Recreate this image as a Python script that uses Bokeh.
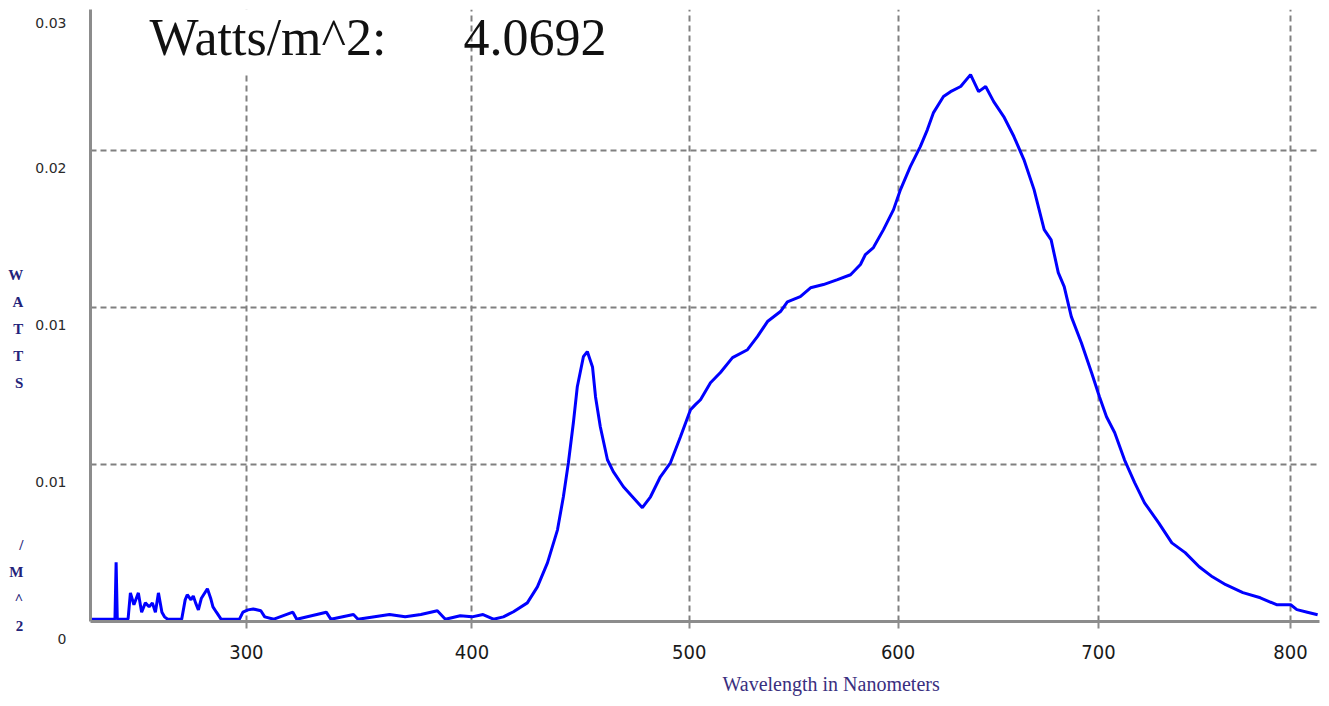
import numpy as np
from bokeh.plotting import figure
from bokeh.models import Range1d, FixedTicker, Label, Title, LinearAxis
from bokeh.embed import file_html
from bokeh.resources import INLINE

# ---------------- data ----------------
wavelength_nm = [
    233, 242, 243.4, 243.9, 244.4, 249, 250, 251.5, 253.4, 254.8, 256.4, 258, 259.4,
    260.7, 262, 263.5, 264.6, 266, 272, 273.5, 274.4, 276, 277, 278, 279.2, 280.5,
    283.1, 284.5, 285.5, 287, 289, 297, 298.5, 300.7, 303, 306.3, 308, 312, 320.3,
    322, 335, 337, 347, 349, 363, 370, 377, 384.4, 388, 394.7, 400, 405,
    409.7, 414.2, 418.8, 425.1, 429.7, 434.3, 438.9, 441.6, 443.9, 446.2, 448, 450.8,
    452.6, 455, 456.4, 458.6, 461.9, 464.6, 469.3, 473.9, 478.1, 481.9, 486.5, 491.2,
    495.9, 500.6, 502.9, 505.3, 510, 514.7, 520.4, 527.5, 532.2, 537, 543.2, 546.5,
    552.7, 557.6, 563.8, 570.6, 576.9, 581.7, 584.1, 588, 592.9, 597.8, 601.2, 606,
    610.9, 614.4, 617.4, 622.3, 625.8, 630.8, 635.7, 639.7, 643.2, 647.2, 652.2, 657.3,
    662.3, 667.4, 672.5, 676, 679.6, 682.6, 686.2, 691.3, 696.5, 700.5, 704.1, 708.3,
    713.3, 718.5, 723.6, 730.9, 737.7, 744.6, 751.9, 758.8, 765.8, 774.8, 784, 792.6,
    800.1, 803.4, 809, 814.5,
]
irradiance = [
    0.0001, 0.0001, 0.0001, 0.00254, 0.0001, 0.0001, 0.00123, 0.00072, 0.00123, 0.0004,
    0.0008, 0.00063, 0.0008, 0.0004, 0.00123, 0.0004, 0.0002, 0.0001, 0.0001, 0.00093,
    0.00115, 0.00093, 0.0011, 0.0008, 0.0005, 0.001, 0.00141, 0.001, 0.00063, 0.0004,
    0.0001, 0.0001, 0.0004, 0.0005, 0.00054, 0.00046, 0.0002, 0.0001, 0.0004, 0.0001,
    0.0004, 0.0001, 0.0003, 0.0001, 0.0003, 0.0002, 0.0003, 0.00046, 0.0001, 0.00025,
    0.0002, 0.0003,
    0.0001, 0.0002, 0.00042, 0.0008, 0.00149, 0.00252, 0.00394, 0.00536, 0.00682, 0.00855,
    0.01009, 0.01138, 0.0116, 0.01094, 0.00965, 0.00837, 0.00695, 0.00644, 0.00579,
    0.00532, 0.00489, 0.00536, 0.00622, 0.00682, 0.00794, 0.0091, 0.00932, 0.00953,
    0.01026, 0.0107, 0.01134, 0.01168, 0.01224, 0.01289, 0.01332, 0.01374, 0.01396,
    0.01434, 0.01448, 0.01469, 0.0149, 0.01534, 0.01577, 0.01607, 0.01684, 0.0177,
    0.01856, 0.01955, 0.02041, 0.02114, 0.02187, 0.02256, 0.02277, 0.02299, 0.0235,
    0.02277, 0.02299, 0.02234, 0.0217, 0.02084, 0.01985, 0.01856, 0.01684, 0.0164,
    0.01499, 0.01439, 0.0131, 0.01198, 0.01069, 0.00966, 0.0088, 0.00811, 0.00695,
    0.00597, 0.0051, 0.00424, 0.00338, 0.00296, 0.00235, 0.00192, 0.00158, 0.00124,
    0.00102, 0.00072, 0.00072, 0.00051, 0.0004, 0.00029,
]
x_tick_nm = [300, 400, 500, 600, 700, 800]
y_grid_values = [0.00675, 0.0135, 0.02025]
y_label_values = [0.0, 0.00675, 0.0135, 0.02025]
y_top_label_value = 0.0257
x_start_nm, x_end_nm = 233.0, 815.5
y_end = 0.0263

total_caption = "Watts/m^2:"
total_value = "4.0692"
x_title = "Wavelength in Nanometers"
y_title_lines = ["W", "A", "T", "T", "S", "", "", "", "", "", "/", "M", "^", "2"]

# spectrometer display calibration: screen channel as a function of wavelength
CAL_B, CAL_C = 2.13, -0.00042


def chan(nm):
    d = np.asarray(nm, dtype=float) - 500.0
    return CAL_B * d + CAL_C * d * d


X0 = float(chan(x_start_nm))


# layout helpers (page pixel -> plot coordinates, for text placement only)
def x_at(px):
    return (px - 90.0) + X0


def y_at(py):
    return (621.7 - py) / 157.0 * y_grid_values[0]


def fmt(v):
    return "0" if v == 0 else "%.2f" % v


p = figure(width=1329, height=704, output_backend="svg", toolbar_location=None,
           x_range=Range1d(X0, float(chan(x_end_nm))), y_range=Range1d(0, y_end),
           min_border_left=90, min_border_right=10, min_border_top=9, min_border_bottom=82)
p.outline_line_color = None
p.background_fill_color = "white"
p.border_fill_color = "white"

# x axis
xt = [float(v) for v in chan(x_tick_nm)]
xax = p.xaxis[0]
xax.ticker = FixedTicker(ticks=xt)
xax.major_label_overrides = {v: str(t) for v, t in zip(xt, x_tick_nm)}
xax.minor_tick_line_color = None
xax.major_tick_in = 0
xax.major_tick_out = 7
xax.major_tick_line_color = "#8c8c8c"
xax.major_tick_line_width = 2
xax.axis_line_color = "#8c8c8c"
xax.axis_line_width = 3
xax.major_label_standoff = 16
xax.major_label_text_font = "Liberation Sans Narrow, DejaVu Sans Condensed, sans-serif"
xax.major_label_text_font_size = "20px"
xax.major_label_text_color = "#1a1a1a"

# y axis (labels sit just below their grid lines, as in the original)
yax = p.yaxis[0]
yax.ticker = FixedTicker(ticks=y_label_values + [y_top_label_value])
overrides = {v: "\n" + fmt(v) for v in y_label_values}
overrides[y_top_label_value] = fmt(y_top_label_value)
yax.major_label_overrides = overrides
yax.minor_tick_line_color = None
yax.major_tick_in = 0
yax.major_tick_out = 0
yax.axis_line_color = "#8c8c8c"
yax.axis_line_width = 3
yax.major_label_standoff = 24
yax.major_label_text_font = "DejaVu Sans"
yax.major_label_text_font_size = "14px"
yax.major_label_text_color = "#2a2a2a"
yax.major_label_text_line_height = 2.2

# stacked, upright y title
if "axis_label_orientation" in LinearAxis.properties():
    yax.axis_label = "\n" * 10 + "\n".join(y_title_lines)
    yax.axis_label_orientation = "horizontal"
    yax.axis_label_standoff = 9
    yax.axis_label_text_font = "Liberation Serif"
    yax.axis_label_text_font_style = "bold"
    yax.axis_label_text_font_size = "15px"
    yax.axis_label_text_line_height = 1.69
    yax.axis_label_text_color = "#23237a"
else:
    p.add_layout(Title(text="".join(y_title_lines), align="center",
                       text_font="Liberation Serif", text_font_style="bold",
                       text_font_size="15px", text_color="#23237a"), "left")

# x title, off-centre to the right as in the original
p.add_layout(Title(text=x_title, align="left", offset=632, standoff=19,
                   text_font="Liberation Serif", text_font_style="normal",
                   text_font_size="20px", text_color="#3a2f80"), "below")

# grids
p.xgrid.ticker = FixedTicker(ticks=xt)
p.ygrid.ticker = FixedTicker(ticks=y_grid_values)
for g in (p.xgrid[0], p.ygrid[0]):
    g.grid_line_color = "#808080"
    g.grid_line_dash = "6 4"
    g.grid_line_width = 2

# spectrum
p.line(chan(wavelength_nm), irradiance, line_color="#0000ff", line_width=3)

# total irradiance read-out
p.add_layout(Label(x=x_at(143), y=y_at(38), text=total_caption, text_align="left",
                   text_baseline="middle", text_font="Liberation Serif",
                   text_font_size="52px", text_color="#111111",
                   background_fill_color="white", padding=6))
p.add_layout(Label(x=x_at(463), y=y_at(38), text=total_value, text_align="left",
                   text_baseline="middle", text_font="Liberation Serif",
                   text_font_size="52px", text_color="#111111"))

open("out.html", "w").write(file_html(p, INLINE))
